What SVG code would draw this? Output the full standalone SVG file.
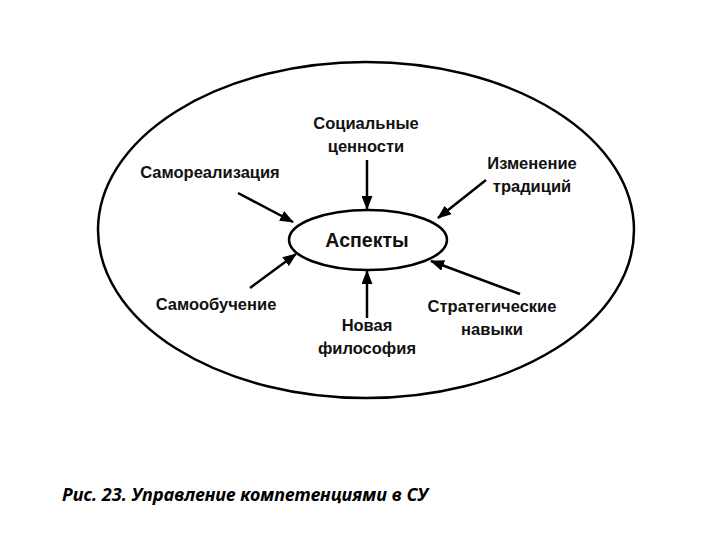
<svg xmlns="http://www.w3.org/2000/svg" width="720" height="540" viewBox="0 0 720 540">
<defs>
<marker id="ah" markerWidth="14" markerHeight="11" refX="13" refY="5.5" orient="auto" markerUnits="userSpaceOnUse">
<path d="M0,0 L14,5.5 L0,11 Z" fill="#000"/>
</marker>
<style>
.lbl{font-family:"Liberation Sans",Arial,sans-serif;font-weight:bold;font-size:16.5px;fill:#111;text-anchor:middle}
.ell{fill:none;stroke:#000;stroke-width:2.5}
.con{stroke:#000;stroke-width:2.5;fill:none;marker-end:url(#ah)}
</style>
</defs>
<rect width="720" height="540" fill="#fff"/>
<g id="outer"><ellipse class="ell" cx="366" cy="230" rx="268" ry="168"/></g>
<g id="aspekty">
<ellipse class="ell" cx="368" cy="240" rx="79" ry="30" fill="#fff"/>
<text class="lbl" x="367" y="247" style="font-size:19.5px">Аспекты</text>
</g>
<g id="connectors">
<line class="con" x1="367" y1="160" x2="367" y2="209"/>
<line class="con" x1="238" y1="193" x2="293" y2="222"/>
<line class="con" x1="486" y1="180" x2="438" y2="218"/>
<line class="con" x1="250" y1="288" x2="296" y2="254"/>
<line class="con" x1="367" y1="318" x2="367" y2="271"/>
<line class="con" x1="520" y1="294" x2="431" y2="261"/>
</g>
<g id="social"><text class="lbl" x="366" y="129">Социальные</text><text class="lbl" x="366" y="152">ценности</text></g>
<g id="samoreal"><text class="lbl" x="210" y="178">Самореализация</text></g>
<g id="izmenenie"><text class="lbl" x="532" y="169">Изменение</text><text class="lbl" x="532" y="192">традиций</text></g>
<g id="samoobuch"><text class="lbl" x="216" y="310">Самообучение</text></g>
<g id="novaya"><text class="lbl" x="367" y="331">Новая</text><text class="lbl" x="367" y="354">философия</text></g>
<g id="strateg"><text class="lbl" x="492" y="312">Стратегические</text><text class="lbl" x="492" y="335">навыки</text></g>
<text x="62" y="501" textLength="366" lengthAdjust="spacingAndGlyphs" style="font-family:'Noto Sans','Open Sans',sans-serif;font-style:italic;font-weight:bold;font-size:17px;fill:#000">Рис. 23. Управление компетенциями в СУ</text>
</svg>
